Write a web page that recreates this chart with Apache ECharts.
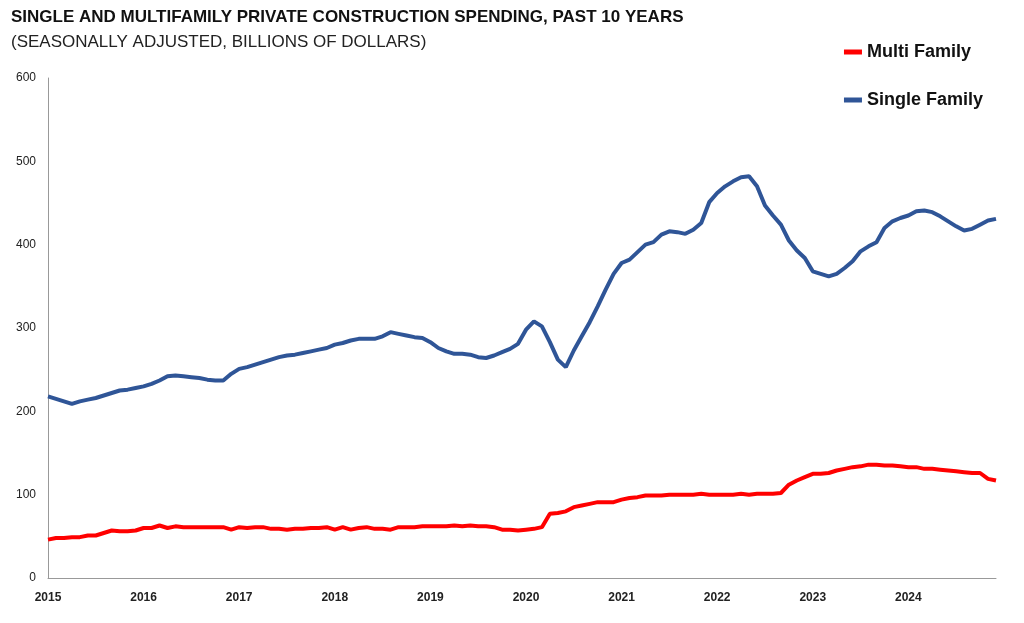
<!DOCTYPE html>
<html><head><meta charset="utf-8">
<script src="https://cdn.jsdelivr.net/npm/echarts@6/dist/echarts.min.js"></script>
<style>html,body{margin:0;padding:0;background:#fff}#c{width:1024px;height:623px}</style>
</head><body><div id="c"></div>
<script>
var years = ['2015','2016','2017','2018','2019','2020','2021','2022','2023','2024'];
var singleFamily = [
  218,215,212,209,212,214,216,219,222,225,226,228,
  230,233,237,242,243,242,241,240,238,237,237,245,
  251,253,256,259,262,265,267,268,270,272,274,276,
  280,282,285,287,287,287,290,295,293,291,289,288,
  283,276,272,269,269,268,265,264,267,271,275,281,
  298,308,302,283,262,253,273,290,307,326,346,365,
  378,382,391,400,403,412,416,415,413,418,426,451,
  462,470,476,481,482,470,447,435,424,405,393,384,
  368,365,362,365,372,380,392,398,403,420,428,432,
  435,440,441,439,434,428,422,417,419,424,429,431
];
var multiFamily = [
  46,48,48,49,49,51,51,54,57,56,56,57,
  60,60,63,60,62,61,61,61,61,61,61,58,
  61,60,61,61,59,59,58,59,59,60,60,61,
  58,61,58,60,61,59,59,58,61,61,61,62,
  62,62,62,63,62,63,62,62,61,58,58,57,
  58,59,61,77,78,80,85,87,89,91,91,91,
  94,96,97,99,99,99,100,100,100,100,101,100,
  100,100,100,101,100,101,101,101,102,112,117,121,
  125,125,126,129,131,133,134,136,136,135,135,134,
  133,133,131,131,130,129,128,127,126,126,119,117
];
var months = [];
years.forEach(function (y) { for (var m = 0; m < 12; m++) months.push(y + '-' + m); });

var chart = echarts.init(document.getElementById('c'));
chart.setOption({
    animation: false,
    textStyle: { fontFamily: 'Liberation Sans' },
    title: {
        text: 'SINGLE AND MULTIFAMILY PRIVATE CONSTRUCTION SPENDING, PAST 10 YEARS',
        subtext: '(SEASONALLY ADJUSTED, BILLIONS OF DOLLARS)',
        left: 6, top: 4, itemGap: 8,
        textStyle: { fontSize: 17, fontWeight: 'bold', color: '#111' },
        subtextStyle: { fontSize: 17, color: '#222' }
    },
    legend: {
        orient: 'vertical', right: 36, top: 38, itemGap: 30,
        icon: 'rect', itemWidth: 18, itemHeight: 5,
        textStyle: { fontSize: 18, fontWeight: 'bold', color: '#111' },
        data: ['Multi Family', 'Single Family']
    },
    grid: { left: 48, right: 28, top: 78, bottom: 45 },
    xAxis: {
        type: 'category', data: months, boundaryGap: false,
        axisLine: { lineStyle: { color: '#999' } },
        axisTick: { show: false },
        axisLabel: {
            interval: function (i) { return i % 12 === 0; },
            formatter: function (v) { return v.split('-')[0]; },
            margin: 14, fontWeight: 'bold', fontSize: 12, color: '#222'
        }
    },
    yAxis: {
        type: 'value', min: 0, max: 600, interval: 100,
        axisLine: { show: true, lineStyle: { color: '#999' } },
        axisTick: { show: false },
        splitLine: { show: false },
        axisLabel: { fontSize: 12, color: '#222', margin: 12 }
    },
    series: [
        { name: 'Multi Family', type: 'line', data: multiFamily, showSymbol: false,
          lineStyle: { color: '#ff0000', width: 4 }, itemStyle: { color: '#ff0000' } },
        { name: 'Single Family', type: 'line', data: singleFamily, showSymbol: false,
          lineStyle: { color: '#2f5597', width: 4 }, itemStyle: { color: '#2f5597' } }
    ]
});
</script></body></html>
